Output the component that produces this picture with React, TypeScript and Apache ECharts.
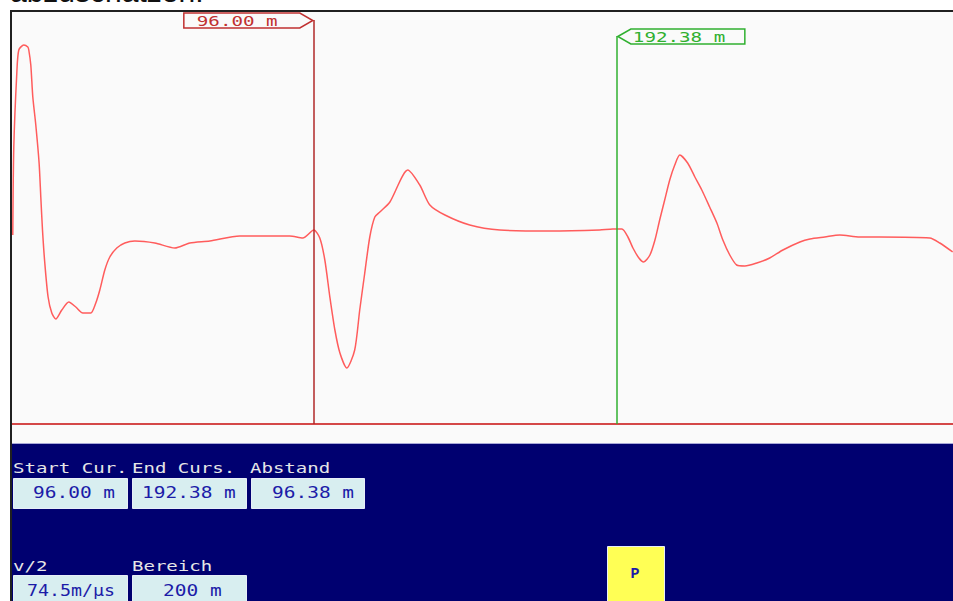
import React, { useEffect, useRef } from "react";
import * as echarts from "echarts";

// Distance along the cable (m) and reflection amplitude (arbitrary units, 0 = baseline)
const distances = [0.25, 0.57, 1.53, 2.16, 3.75, 5.03, 5.34, 5.98, 6.62, 7.57, 8.62, 9.16, 9.7, 10.43, 11.48, 12.66, 13.93, 15.84, 18.07, 20.29, 22.52, 25.06, 26.65, 27.93, 29.52, 31.11, 33.33, 35.88, 39.06, 45.42, 51.78, 56.55, 62.91, 72.46, 82.0, 88.36, 92.49, 96.0, 97.9, 99.5, 101.1, 102.7, 104.3, 106.5, 109.0, 110.6, 112.2, 113.8, 115.4, 117.0, 120.2, 125.9, 129.7, 132.9, 137.7, 145.6, 155.2, 171.1, 186.9, 191.1, 194.0, 195.9, 197.5, 199.4, 200.9, 202.9, 204.5, 206.0, 207.6, 209.2, 210.8, 212.4, 214.9, 217.2, 219.4, 221.9, 224.2, 226.1, 228.3, 230.5, 233.1, 236.9, 241.0, 245.2, 250.6, 253.8, 258.5, 263.3, 269.6, 276.0, 291.9, 295.1, 299.2];
const amplitudes = [189, 277, 351, 374, 379, 377, 374, 359, 327, 299, 261, 227, 194, 161, 127, 111, 105, 114, 122, 117, 111, 111, 121, 134, 154, 167, 176, 181, 183, 181, 176, 181, 183, 188, 188, 188, 186, 194, 186, 164, 127, 94, 71, 56, 74, 114, 151, 187, 207, 212, 222, 254, 239, 219, 209, 199, 194, 193, 194, 195, 195, 187, 176, 166, 162, 169, 184, 204, 224, 244, 259, 269, 261, 247, 234, 217, 201, 184, 169, 159, 158, 161, 166, 174, 182, 185, 187, 189, 187, 187, 186, 181, 172];

const startCursor = 96.0;
const endCursor = 192.38;
const velocityLabel = "74.5m/µs";
const rangeLabel = "200 m";
const xMax = 299.3;
const yMin = -19;
const yMax = 413;
const startCursorTop = 404;
const endCursorTop = 388;

const MONO = "'DejaVu Sans Mono', monospace";
const NAVY = "#000070";
const BLUE_TXT = "#1c1ca8";

export default function App() {
  const ref = useRef<HTMLDivElement>(null);
  useEffect(() => {
    if (!ref.current) return;
    const chart = echarts.init(ref.current, null, { renderer: "svg" });
    const data = distances.map((d, i) => [d, amplitudes[i]]);
    chart.setOption({
      animation: false,
      backgroundColor: "#ffffff",
      grid: { left: 12, top: 11, width: 941, height: 432, show: true, backgroundColor: "#fafafa", borderWidth: 0 },
      xAxis: { type: "value", min: 0, max: xMax, show: false },
      yAxis: { type: "value", min: yMin, max: yMax, show: false },
      series: [
        {
          type: "line",
          data,
          showSymbol: false,
          smooth: 0.25,
          lineStyle: { color: "#ff5c5c", width: 1.5 },
          z: 3,
          markLine: {
            silent: true,
            symbol: "none",
            label: { show: false },
            animation: false,
            data: [
              [
                { coord: [0, 0], lineStyle: { color: "#d44848", width: 2, type: "solid" } },
                { coord: [xMax, 0] },
              ],
              [
                { coord: [startCursor, 0], lineStyle: { color: "#b02828", width: 1.5, type: "solid" } },
                { coord: [startCursor, startCursorTop] },
              ],
              [
                { coord: [endCursor, 0], lineStyle: { color: "#30b030", width: 1.5, type: "solid" } },
                { coord: [endCursor, endCursorTop] },
              ],
            ],
          },
        },
      ],
    });

    const sx = chart.convertToPixel({ gridIndex: 0 }, [startCursor, startCursorTop]) as number[];
    const ex = chart.convertToPixel({ gridIndex: 0 }, [endCursor, endCursorTop]) as number[];
    const cs = sx[0];
    const ce = ex[0];
    const sy = sx[1];
    const ey = ex[1];

    const fmt = (v: number) => `${v.toFixed(2)} m`;
    const label = (text: string, x: number, y: number, color: string, size: number, sc: number) => ({
      type: "text",
      x,
      y,
      scaleX: sc,
      style: { text, fill: color, font: `${size}px ${MONO}`, textAlign: "left", textVerticalAlign: "middle" },
      z: 20,
    });
    const box = (x: number, y: number, w: number, h: number, fill: string) => ({
      type: "rect",
      shape: { x: x + 0.5, y: y + 0.5, width: w, height: h },
      style: { fill, stroke: "#e8eef8", lineWidth: 1 },
      z: 15,
    });

    const graphics: any[] = [
      // partially visible caption at the top
      {
        type: "text",
        x: 10,
        y: -9,
        style: { text: "abzuschätzen.", fill: "#111", font: "30px 'Liberation Sans', sans-serif", textAlign: "left", textVerticalAlign: "middle" },
        z: 1,
      },
      // frame
      { type: "line", shape: { x1: 11, y1: 11, x2: 953, y2: 11 }, style: { stroke: "#202020", lineWidth: 2 }, z: 12 },
      { type: "line", shape: { x1: 11, y1: 10, x2: 11, y2: 601 }, style: { stroke: "#202020", lineWidth: 2 }, z: 12 },
      // start cursor flag
      {
        type: "polygon",
        shape: {
          points: [
            [cs - 130, sy - 7],
            [cs - 14, sy - 7],
            [cs - 1, sy + 0.5],
            [cs - 14, sy + 8],
            [cs - 130, sy + 8],
          ],
        },
        style: { fill: "#fafafa", stroke: "#c03030", lineWidth: 1.5 },
        z: 14,
      },
      label(fmt(startCursor), cs - 117, sy + 0.5, "#c03030", 14, 1.37),
      // end cursor flag
      {
        type: "polygon",
        shape: {
          points: [
            [ce + 1, ey + 0.5],
            [ce + 14, ey - 7],
            [ce + 128, ey - 7],
            [ce + 128, ey + 8],
            [ce + 14, ey + 8],
          ],
        },
        style: { fill: "#fafafa", stroke: "#30b030", lineWidth: 1.5 },
        z: 14,
      },
      label(fmt(endCursor), ce + 16, ey + 0.5, "#30b030", 14, 1.37),
      // bottom panel
      { type: "rect", shape: { x: 12, y: 443, width: 941, height: 158 }, style: { fill: NAVY }, z: 10 },
      { type: "line", shape: { x1: 12, y1: 443.5, x2: 953, y2: 443.5 }, style: { stroke: "#a8a8d8", lineWidth: 1 }, z: 11 },
      label("Start Cur.", 13, 468, "#e6e6e6", 14, 1.36),
      label("End Curs.", 132, 468, "#e6e6e6", 14, 1.36),
      label("Abstand", 250, 468, "#e6e6e6", 14, 1.36),
      box(13, 478, 114, 30, "#d8eef0"),
      box(132, 478, 114, 30, "#d8eef0"),
      box(251, 478, 113, 30, "#d8eef0"),
      label(fmt(startCursor), 33, 493, BLUE_TXT, 15, 1.3),
      label(fmt(endCursor), 142, 493, BLUE_TXT, 15, 1.3),
      label(fmt(endCursor - startCursor), 272, 493, BLUE_TXT, 15, 1.3),
      label("v/2", 13, 566, "#e6e6e6", 14, 1.36),
      label("Bereich", 132, 566, "#e6e6e6", 14, 1.36),
      box(13, 575, 114, 32, "#d8eef0"),
      box(132, 575, 114, 32, "#d8eef0"),
      label(velocityLabel, 27, 591, BLUE_TXT, 15, 1.22),
      label(rangeLabel, 163, 591, BLUE_TXT, 15, 1.3),
      box(607, 546, 57, 62, "#ffff55"),
      {
        type: "text",
        x: 635,
        y: 574,
        style: { text: "P", fill: BLUE_TXT, font: "bold 15px 'Liberation Mono', monospace", textAlign: "center", textVerticalAlign: "middle" },
        z: 20,
      },
    ];
    chart.setOption({ graphic: graphics });
    return () => chart.dispose();
  }, []);
  return <div ref={ref} style={{ position: "fixed", left: 0, top: 0, width: 953, height: 601 }} />;
}
